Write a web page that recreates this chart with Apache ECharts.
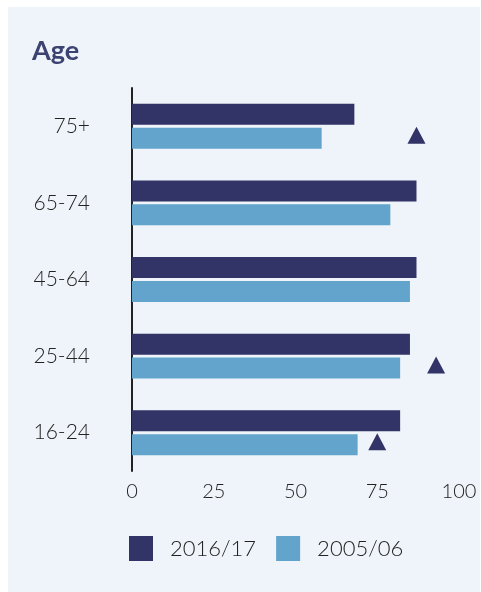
<!DOCTYPE html>
<html>
<head>
<meta charset="utf-8">
<script src="https://cdn.jsdelivr.net/npm/echarts@6/dist/echarts.min.js"></script>
<style>
  html, body { margin: 0; padding: 0; background: #fff; }
  #chart { width: 481px; height: 592px; }
</style>
</head>
<body>
<div id="chart"></div>
<script>
const categories = ['16-24', '25-44', '45-64', '65-74', '75+'];
const values201617 = [82, 85, 87, 87, 68];
const values200506 = [69, 82, 85, 79, 58];
// significance markers, shown beside the 2005/06 bar
const markers = [75, 93, null, null, 87];
const xTicks = [0, 25, 50, 75, 100];

const DARK = '#323366';
const LIGHT = '#62a4cb';
const FONT = 'Lato';

const chart = echarts.init(document.getElementById('chart'));

const option = {
  backgroundColor: '#ffffff',
  animation: false,
  textStyle: { fontFamily: FONT },
  graphic: [
    {
      type: 'rect',
      z: -10,
      silent: true,
      shape: { x: 8, y: 7, width: 472, height: 585 },
      style: { fill: '#eef4f9' }
    }
  ],
  title: {
    text: 'Age',
    left: 27,
    top: 33,
    textStyle: { fontFamily: FONT, fontSize: 27, fontWeight: 'bold', color: '#3c4271' }
  },
  legend: {
    data: ['2016/17', '2005/06'],
    icon: 'rect',
    left: 124,
    top: 531,
    itemWidth: 24,
    itemHeight: 25,
    itemGap: 20,
    textStyle: { fontFamily: FONT, fontSize: 22, fontWeight: 300, color: '#222', padding: [0, 0, 0, 12] }
  },
  grid: { left: 132, right: 22, top: 88, bottom: 121 },
  xAxis: {
    type: 'value',
    min: 0,
    max: 100,
    interval: 25,
    axisLine: { show: false },
    axisTick: { show: false },
    splitLine: { show: false },
    axisLabel: {
      fontFamily: FONT,
      fontSize: 20,
      fontWeight: 300,
      color: '#222',
      margin: 11,
      formatter: v => (xTicks.includes(v) ? String(v) : '')
    }
  },
  yAxis: {
    type: 'category',
    data: categories,
    axisLine: { show: true, lineStyle: { color: '#222', width: 2 } },
    axisTick: { show: false },
    axisLabel: { fontFamily: FONT, fontSize: 21, fontWeight: 300, color: '#222', margin: 42 }
  },
  series: [
    {
      name: '2016/17',
      type: 'bar',
      data: values201617,
      barWidth: 21,
      barGap: '14%',
      itemStyle: { color: DARK }
    },
    {
      name: '2005/06',
      type: 'bar',
      data: values200506,
      barWidth: 21,
      barGap: '14%',
      itemStyle: { color: LIGHT }
    },
    {
      name: 'marker',
      type: 'scatter',
      data: markers.map((v, i) => [v, categories[i]]).filter(d => d[0] != null),
      symbol: 'triangle',
      symbolSize: [18, 17],
      symbolOffset: [0, 9],
      itemStyle: { color: DARK, opacity: 1 },
      z: 5
    }
  ]
};

chart.setOption(option);
</script>
</body>
</html>
